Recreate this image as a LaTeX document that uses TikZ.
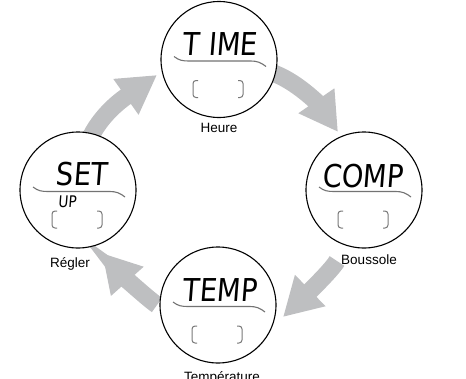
\documentclass[tikz,border=0pt]{standalone}
\usepackage{fontspec}
\usepackage{graphicx}
\usetikzlibrary{arrows.meta}
\setmainfont{Liberation Sans}
\newfontfamily\lcdfont{DejaVu Sans}[FakeSlant=0.09]
\definecolor{arrowgray}{RGB}{190,191,193}
\definecolor{linegray}{RGB}{115,115,115}
\definecolor{brackgray}{RGB}{120,120,120}
\begin{document}
\begin{tikzpicture}[x=1pt,y=-1pt,
  flow/.style={draw=arrowgray, line width=17.5pt, -{Triangle[width=41pt,length=38pt]}},
  dial/.style={circle, draw=black, line width=1.1pt, fill=white, minimum size=116pt, inner sep=0pt},
  lcd/.style={font=\lcdfont\fontsize{31.5}{31.5}\selectfont, anchor=base, inner sep=0pt, text=black},
  lcdsmall/.style={font=\lcdfont\fontsize{16}{16}\selectfont, anchor=base west, inner sep=0pt, text=black},
  lbl/.style={font=\fontsize{13.5}{14}\selectfont, anchor=base, inner sep=0pt},
  face/.pic={
    \draw[linegray, line width=1.1pt] (-45,-3) .. controls (-40,1) and (-36,1.5) .. (-30,1.5) -- (32,1.5) .. controls (38,1.5) and (42,3) .. (47,7);
    \draw[brackgray, line width=1pt, rounded corners=3pt] (-21,21) -- (-26,21) -- (-26,38) -- (-21,38);
    \draw[brackgray, line width=1pt, rounded corners=3pt] (19,21) -- (24,21) -- (24,38) -- (19,38);
  }]
\useasboundingbox (0,0) rectangle (466,378);
% circle centres
\coordinate (cT) at (219,59.5);
\coordinate (cR) at (364,190);
\coordinate (cB) at (218,305);
\coordinate (cL) at (78,190);
% arrow end points
\coordinate (a1s) at (88,143);  \coordinate (a1e) at (157,75);
\coordinate (a2s) at (270,72);  \coordinate (a2e) at (338,132);
\coordinate (a3s) at (337,261); \coordinate (a3e) at (283,317);
\coordinate (a4s) at (157,305); \coordinate (a4e) at (102,253);
% arrows
\draw[flow] (a1s) .. controls (100,112) and (130,94) .. (a1e);
\draw[flow] (a2s) .. controls (296,80) and (320,106) .. (a2e);
\draw[flow] (a3s) .. controls (330.4,272) and (301,299.5) .. (a3e);
\draw[flow] (a4s) .. controls (146.4,297.8) and (118.75,271.75) .. (a4e);
% dials
\node[dial] (dT) at (cT) {};
\node[dial] (dR) at (cR) {};
\node[dial] (dB) at (cB) {};
\node[dial] (dL) at (cL) {};
\pic at (cT) {face};
\pic at (cR) {face};
\pic at (cB) {face};
\pic at (cL) {face};
% LCD texts
\node[lcd] (tT) at (220,55) {\scalebox{0.87}[1]{T IME}};
\node[lcd] (tR) at (362.5,187) {\scalebox{0.87}[1]{COMP}};
\node[lcd] (tB) at (219.5,301) {\scalebox{0.87}[1]{TEMP}};
\node[lcd] (tL) at (81.5,185) {\scalebox{0.87}[1]{SET}};
\node[lcdsmall] (tU) at (58,207) {\scalebox{0.85}[1]{UP}};
% labels
\node[lbl] (lT) at (219,132.5) {Heure};
\node[lbl] (lR) at (369,264.5) {Boussole};
\node[lbl] (lB) at (222,381) {Température};
\node[lbl] (lL) at (70,267) {Régler};
\end{tikzpicture}
\end{document}
